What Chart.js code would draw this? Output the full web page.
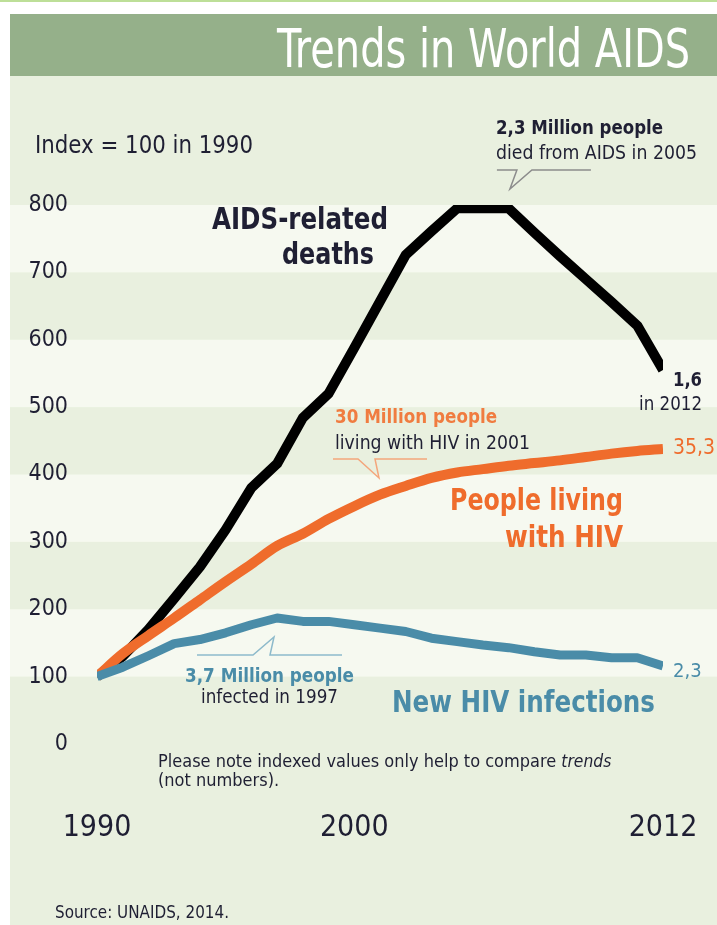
<!DOCTYPE html>
<html>
<head>
<meta charset="utf-8">
<title>Trends in World AIDS</title>
<script src="https://cdn.jsdelivr.net/npm/chart.js@4"></script>
<style>
  html, body { margin: 0; padding: 0; background: #fff; }
  #wrap { width: 717px; height: 925px; }
</style>
</head>
<body>
<div id="wrap"><canvas id="aids-chart" width="717" height="925"></canvas></div>
<script>
// index = 100 in 1990
var years = [1990, 1991, 1992, 1993, 1994, 1995, 1996, 1997, 1998, 1999, 2000, 2001,
             2002, 2003, 2004, 2005, 2006, 2007, 2008, 2009, 2010, 2011, 2012];
var deaths = [100, 130, 170, 216, 263, 318, 380, 416, 484, 520, 588, 657,
              726, 761, 795, 795, 795, 759, 724, 690, 656, 621, 555];
var living = [100, 134, 161, 187, 214, 241, 267, 294, 312, 334, 353, 370,
              383, 395, 403, 408, 413, 417, 421, 426, 431, 435, 438];
var infections = [100, 114, 131, 149, 155, 165, 177, 187, 182, 182, 177, 172,
                  167, 157, 152, 147, 143, 137, 132, 132, 128, 128, 116];
var yearTicks = [1990, 2000, 2012];
var indexTicks = [0, 100, 200, 300, 400, 500, 600, 700, 800];

var FONT = '"DejaVu Sans Condensed", "DejaVu Sans", sans-serif';
var INK = '#1f1f33';
var ORANGE = '#ef6c2c';
var BLUE = '#4a8ca8';

function points(values) {
  return years.map(function(yr, i) { return { x: yr, y: values[i] }; });
}

// draws a line of text squeezed to at most `width`, returns the drawn width
function text(ctx, str, x, y, width, size, weight, color, style) {
  ctx.font = (style || 'normal') + ' ' + weight + ' ' + size + 'px ' + FONT;
  ctx.fillStyle = color;
  ctx.textAlign = 'left';
  ctx.textBaseline = 'alphabetic';
  ctx.fillText(str, x, y, width);
  return Math.min(ctx.measureText(str).width, width);
}

function callout(ctx, color, x1, x2, y, a, tip, b) {
  ctx.strokeStyle = color;
  ctx.lineWidth = 1.5;
  ctx.beginPath();
  ctx.moveTo(x1, y);
  ctx.lineTo(a, y);
  ctx.lineTo(tip[0], tip[1]);
  ctx.lineTo(b, y);
  ctx.lineTo(x2, y);
  ctx.stroke();
}

// panel, title bar and the alternating bands behind the lines
var backdrop = {
  id: 'backdrop',
  beforeDraw: function(chart) {
    var ctx = chart.ctx;
    var y = chart.scales.y;
    ctx.save();
    ctx.fillStyle = '#ffffff';
    ctx.fillRect(0, 0, chart.width, chart.height);
    ctx.fillStyle = '#bddf98';
    ctx.fillRect(0, 0, chart.width, 2);
    ctx.fillStyle = '#e9f0df';
    ctx.fillRect(10, 14, chart.width - 10, chart.height - 14);
    ctx.fillStyle = '#95b08a';
    ctx.fillRect(10, 14, chart.width - 10, 62);
    ctx.fillStyle = '#f6f9f0';
    for (var v = 100; v < 800; v += 200) {
      var top = y.getPixelForValue(v + 100);
      var bottom = y.getPixelForValue(v);
      ctx.fillRect(10, top, chart.width - 10, bottom - top);
    }
    text(ctx, 'Trends in World AIDS', 277, 67, 413, 54, 'normal', '#ffffff');
    ctx.restore();
  }
};

// labels and callouts
var notes = {
  id: 'notes',
  afterDraw: function(chart) {
    var ctx = chart.ctx;
    var x = chart.scales.x;
    ctx.save();

    text(ctx, 'Index = 100 in 1990', 35, 153, 218, 24, 'normal', INK);

    text(ctx, 'AIDS-related', 212, 229, 176, 31, 'bold', INK);
    text(ctx, 'deaths', 282, 264, 92, 31, 'bold', INK);

    text(ctx, '2,3 Million people', 496, 134, 167, 20, 'bold', INK);
    text(ctx, 'died from AIDS in 2005', 496, 159, 201, 20, 'normal', INK);
    var px = x.getPixelForValue(2005);
    callout(ctx, '#8c8c8c', px + 14, px + 108, 170, px + 34, [px + 27, 189], px + 49);

    var ex = x.getPixelForValue(2012) + 10;
    text(ctx, '1,6', ex, 386, 29, 20, 'bold', INK);
    text(ctx, 'in 2012', ex - 34, 410, 63, 20, 'normal', INK);

    text(ctx, '30 Million people', 335, 423, 162, 20, 'bold', '#f07c40');
    text(ctx, 'living with HIV in 2001', 335, 449, 195, 20, 'normal', INK);
    callout(ctx, '#f4a67c', 333, 427, 459, 358, [379, 478], 375);

    text(ctx, '35,3', ex, 454, 42, 21, 'normal', ORANGE);
    text(ctx, 'People living', 450, 510, 173, 31, 'bold', ORANGE);
    text(ctx, 'with HIV', 505, 547, 118, 31, 'bold', ORANGE);

    text(ctx, '3,7 Million people', 185, 682, 169, 20, 'bold', BLUE);
    text(ctx, 'infected in 1997', 201, 703, 137, 20, 'normal', INK);
    callout(ctx, '#8dbacb', 197, 342, 655, 253, [274, 637], 270);

    text(ctx, '2,3', ex, 677, 29, 20, 'normal', BLUE);
    text(ctx, 'New HIV infections', 392, 712, 263, 31, 'bold', BLUE);

    var w = text(ctx, 'Please note indexed values only help to compare ', 158, 767, 410, 18, 'normal', INK);
    text(ctx, 'trends', 158 + w, 767, 50, 18, 'normal', INK, 'italic');
    text(ctx, '(not numbers).', 158, 786, 125, 18, 'normal', INK);

    text(ctx, 'Source: UNAIDS, 2014.', 55, 918, 174, 18, 'normal', INK);
    ctx.restore();
  }
};

new Chart(document.getElementById('aids-chart'), {
  type: 'line',
  data: {
    datasets: [{
      label: 'AIDS-related deaths',
      data: points(deaths),
      borderColor: '#000000',
      borderWidth: 10,
      tension: 0,
      order: 3
    }, {
      label: 'People living with HIV',
      data: points(living),
      borderColor: ORANGE,
      borderWidth: 10,
      cubicInterpolationMode: 'monotone',
      order: 2
    }, {
      label: 'New HIV infections',
      data: points(infections),
      borderColor: BLUE,
      borderWidth: 9,
      tension: 0,
      order: 1
    }]
  },
  options: {
    responsive: false,
    animation: false,
    devicePixelRatio: 1,
    layout: { padding: { left: 0, top: 205, right: 54, bottom: 0 } },
    elements: {
      point: { radius: 0 },
      line: { borderJoinStyle: 'round', borderCapStyle: 'butt', fill: false }
    },
    plugins: {
      legend: { display: false },
      tooltip: { enabled: false },
      title: { display: false }
    },
    scales: {
      x: {
        type: 'linear',
        min: 1990,
        max: 2012,
        grid: { display: false },
        border: { display: false },
        afterBuildTicks: function(scale) {
          scale.ticks = yearTicks.map(function(v) { return { value: v }; });
        },
        afterFit: function(scale) {
          // the big label gap would otherwise be added to the side padding too
          scale.height = 181;
          scale.paddingLeft = 0;
          scale.paddingRight = 0;
        },
        ticks: {
          autoSkip: false,
          maxRotation: 0,
          padding: 58,
          color: INK,
          font: { family: FONT, size: 30 },
          callback: function(v) { return String(v); }
        }
      },
      y: {
        min: 0,
        max: 800,
        grid: { display: false },
        border: { display: false },
        afterBuildTicks: function(scale) {
          scale.ticks = indexTicks.map(function(v) { return { value: v }; });
        },
        afterFit: function(scale) { scale.width = 97; },
        ticks: {
          padding: 21,
          color: INK,
          font: { family: FONT, size: 23 },
          callback: function(v) { return String(v); }
        }
      }
    }
  },
  plugins: [backdrop, notes]
});
</script>
</body>
</html>
